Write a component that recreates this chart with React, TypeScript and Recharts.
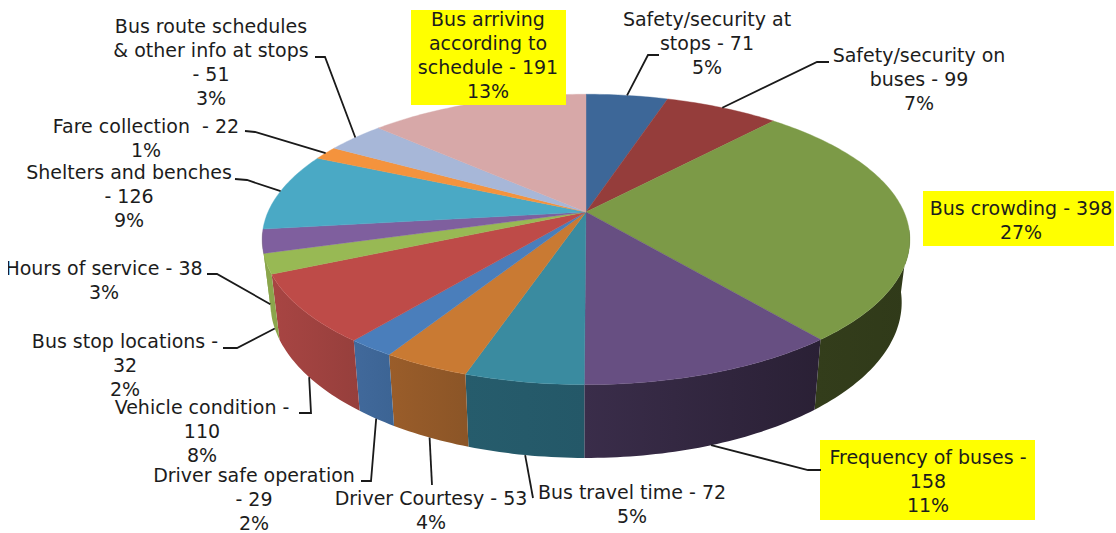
import { PieChart, Pie } from 'recharts';

const categories = [
  'Safety/security at stops',
  'Safety/security on buses',
  'Bus crowding',
  'Frequency of buses',
  'Bus travel time',
  'Driver Courtesy',
  'Driver safe operation',
  'Vehicle condition',
  'Bus stop locations',
  'Hours of service',
  'Shelters and benches',
  'Fare collection',
  'Bus route schedules & other info at stops',
  'Bus arriving according to schedule',
];
const counts = [71, 99, 398, 158, 72, 53, 29, 110, 32, 38, 126, 22, 51, 191];
const labelLines = [
  ['Safety/security at', 'stops - 71', '5%'],
  ['Safety/security on', 'buses - 99', '7%'],
  ['Bus crowding - 398', '27%'],
  ['Frequency of buses -', '158', '11%'],
  ['Bus travel time - 72', '5%'],
  ['Driver Courtesy - 53', '4%'],
  ['Driver safe operation', '- 29', '2%'],
  ['Vehicle condition -', '110', '8%'],
  ['Bus stop locations -', '32', '2%'],
  ['Hours of service - 38', '3%'],
  ['Shelters and benches', '- 126', '9%'],
  ['Fare collection  - 22', '1%'],
  ['Bus route schedules', '& other info at stops', '- 51', '3%'],
  ['Bus arriving', 'according to', 'schedule - 191', '13%'],
];

const topColors = [
  '#3d6798', '#953d3b', '#7c9a47', '#674f82', '#3a8ba0', '#c97a33', '#4a7ebb',
  '#be4b48', '#98b954', '#7f5f9e', '#4aa9c5', '#f4933d', '#a7b7d8', '#d7a8a8',
];
const wallColors: [string, string][] = [
  ['#2f4d72', '#2f4d72'], ['#702e2c', '#702e2c'], ['#333d1b', '#303a19'], ['#3a2d4a', '#2a2035'],
  ['#265c6c', '#245868'], ['#9a5d2a', '#8b5527'], ['#41699b', '#3c6494'], ['#a84543', '#963f3c'],
  ['#8ba64c', '#8ba64c'], ['#8ba64c', '#8ba64c'], ['#3a8ba0', '#3a8ba0'], ['#c97a33', '#c97a33'],
  ['#8090b0', '#8090b0'], ['#a88080', '#a88080'],
];

// label placement: text centre x, first line centre y, optional yellow box, leader elbow
type LabelSpot = {
  x: number;
  y: number;
  box?: [number, number, number, number];
  elbow?: [number, number][];
  front?: boolean;
};
const labelSpots: LabelSpot[] = [
  { x: 707, y: 19, elbow: [[659, 55], [648, 55]] },
  { x: 919, y: 55, elbow: [[829, 62], [817, 62]] },
  { x: 1021, y: 208, box: [923, 191, 191, 55] },
  { x: 928, y: 457, box: [820, 440, 215, 80], elbow: [[821, 470], [808, 470]], front: true },
  { x: 632, y: 492, elbow: [[533, 498]], front: true },
  { x: 431, y: 498, elbow: [[432, 485]], front: true },
  { x: 254, y: 475, elbow: [[361, 481], [371, 481]], front: true },
  { x: 202, y: 407, elbow: [[299, 413], [311, 413]], front: true },
  { x: 125, y: 341, elbow: [[223, 348], [237, 348]], front: true },
  { x: 104, y: 268, elbow: [[207, 274], [217, 274]], front: true },
  { x: 129, y: 172, elbow: [[235, 179], [247, 180]] },
  { x: 146, y: 126, elbow: [[245, 131], [255, 132]] },
  { x: 211, y: 26, elbow: [[315, 57], [325, 57]] },
  { x: 488, y: 19, box: [411, 10, 155, 95] },
];

const chartData = categories.map((name, i) => ({ name, value: counts[i], index: i }));

// the tilted disc: a perspective view of the pie's unit circle
const CX = 586;
const TILT = 0.189;
const topDisc = { cy: 212, rx: 318, ry: 140 };
const floorDisc = { cy: 273, rx: 310, ry: 150 };

function project(angle: number, disc: { cy: number; rx: number; ry: number }) {
  const rad = (angle * Math.PI) / 180;
  const u = Math.cos(rad);
  const v = -Math.sin(rad);
  const w = 1 - TILT * v;
  return [CX + (disc.rx * u) / w, disc.cy + (disc.ry * v) / w];
}

function arcAngles(start: number, end: number) {
  const steps = Math.max(2, Math.ceil(Math.abs(end - start)));
  return Array.from({ length: steps + 1 }, (_, i) => start + ((end - start) * i) / steps);
}

function toPath(points: number[][]) {
  return `M${points.map((p) => `${p[0].toFixed(2)},${p[1].toFixed(2)}`).join('L')}Z`;
}

function TopSlice(props: any) {
  const points = [[CX, topDisc.cy], ...arcAngles(props.startAngle, props.endAngle).map((a) => project(a, topDisc))];
  const color = topColors[props.index ?? props.payload?.index ?? 0];
  return <path d={toPath(points)} fill={color} stroke={color} strokeWidth={0.4} />;
}

function WallSlice(props: any) {
  const idx = props.index ?? props.payload?.index ?? 0;
  // only the part of the rim that faces the viewer
  const angles = arcAngles(props.startAngle, props.endAngle).filter(
    (a) => -Math.sin((a * Math.PI) / 180) >= 0.12,
  );
  if (angles.length < 2) return null;
  const upper = angles.map((a) => project(a, topDisc));
  const lower = angles.map((a) => project(a, floorDisc)).reverse();
  const gradId = `wall-${idx}`;
  return (
    <g>
      <defs>
        <linearGradient id={gradId} x1="0" y1="0" x2="1" y2="0">
          <stop offset="0" stopColor={wallColors[idx][0]} />
          <stop offset="1" stopColor={wallColors[idx][1]} />
        </linearGradient>
      </defs>
      <path d={toPath([...upper, ...lower])} fill={`url(#${gradId})`} />
    </g>
  );
}

function SliceLabel(props: any) {
  const idx = props.index ?? props.payload?.index ?? 0;
  const spot = labelSpots[idx];
  const lines = labelLines[idx];
  const end = project(props.midAngle, spot.front ? floorDisc : topDisc);
  const leader = spot.elbow ? [...spot.elbow, end] : null;
  return (
    <g clipPath="url(#page-clip)">
      {spot.box && <rect x={spot.box[0]} y={spot.box[1]} width={spot.box[2]} height={spot.box[3]} fill="#ffff00" />}
      {leader && (
        <polyline
          points={leader.map((p) => p.join(',')).join(' ')}
          fill="none"
          stroke="#1a1a1a"
          strokeWidth={1.8}
        />
      )}
      {lines.map((line, i) => (
        <text
          key={i}
          x={spot.x}
          y={spot.y + i * 24}
          dy="0.36em"
          textAnchor="middle"
          fontFamily="'DejaVu Sans', sans-serif"
          fontSize={19}
          fill="#1c1c1c"
          style={{ whiteSpace: 'pre' }}
        >
          {line}
        </text>
      ))}
    </g>
  );
}

export default function App() {
  return (
    <div style={{ position: 'absolute', left: 0, top: 0, width: 1116, height: 533, background: '#fff' }}>
      <PieChart width={1116} height={533} margin={{ top: 0, right: 0, bottom: 0, left: 0 }}>
        <defs>
          <clipPath id="page-clip">
            <rect x={8} y={0} width={1108} height={533} />
          </clipPath>
        </defs>
        <Pie
          data={chartData}
          dataKey="value"
          nameKey="name"
          cx={CX}
          cy={topDisc.cy}
          outerRadius={topDisc.rx}
          startAngle={90}
          endAngle={-270}
          stroke="none"
          shape={WallSlice}
          label={false}
          labelLine={false}
          isAnimationActive={false}
        />
        <Pie
          data={chartData}
          dataKey="value"
          nameKey="name"
          cx={CX}
          cy={topDisc.cy}
          outerRadius={topDisc.rx}
          startAngle={90}
          endAngle={-270}
          stroke="none"
          shape={TopSlice}
          label={SliceLabel}
          labelLine={false}
          isAnimationActive={false}
        />
      </PieChart>
    </div>
  );
}
